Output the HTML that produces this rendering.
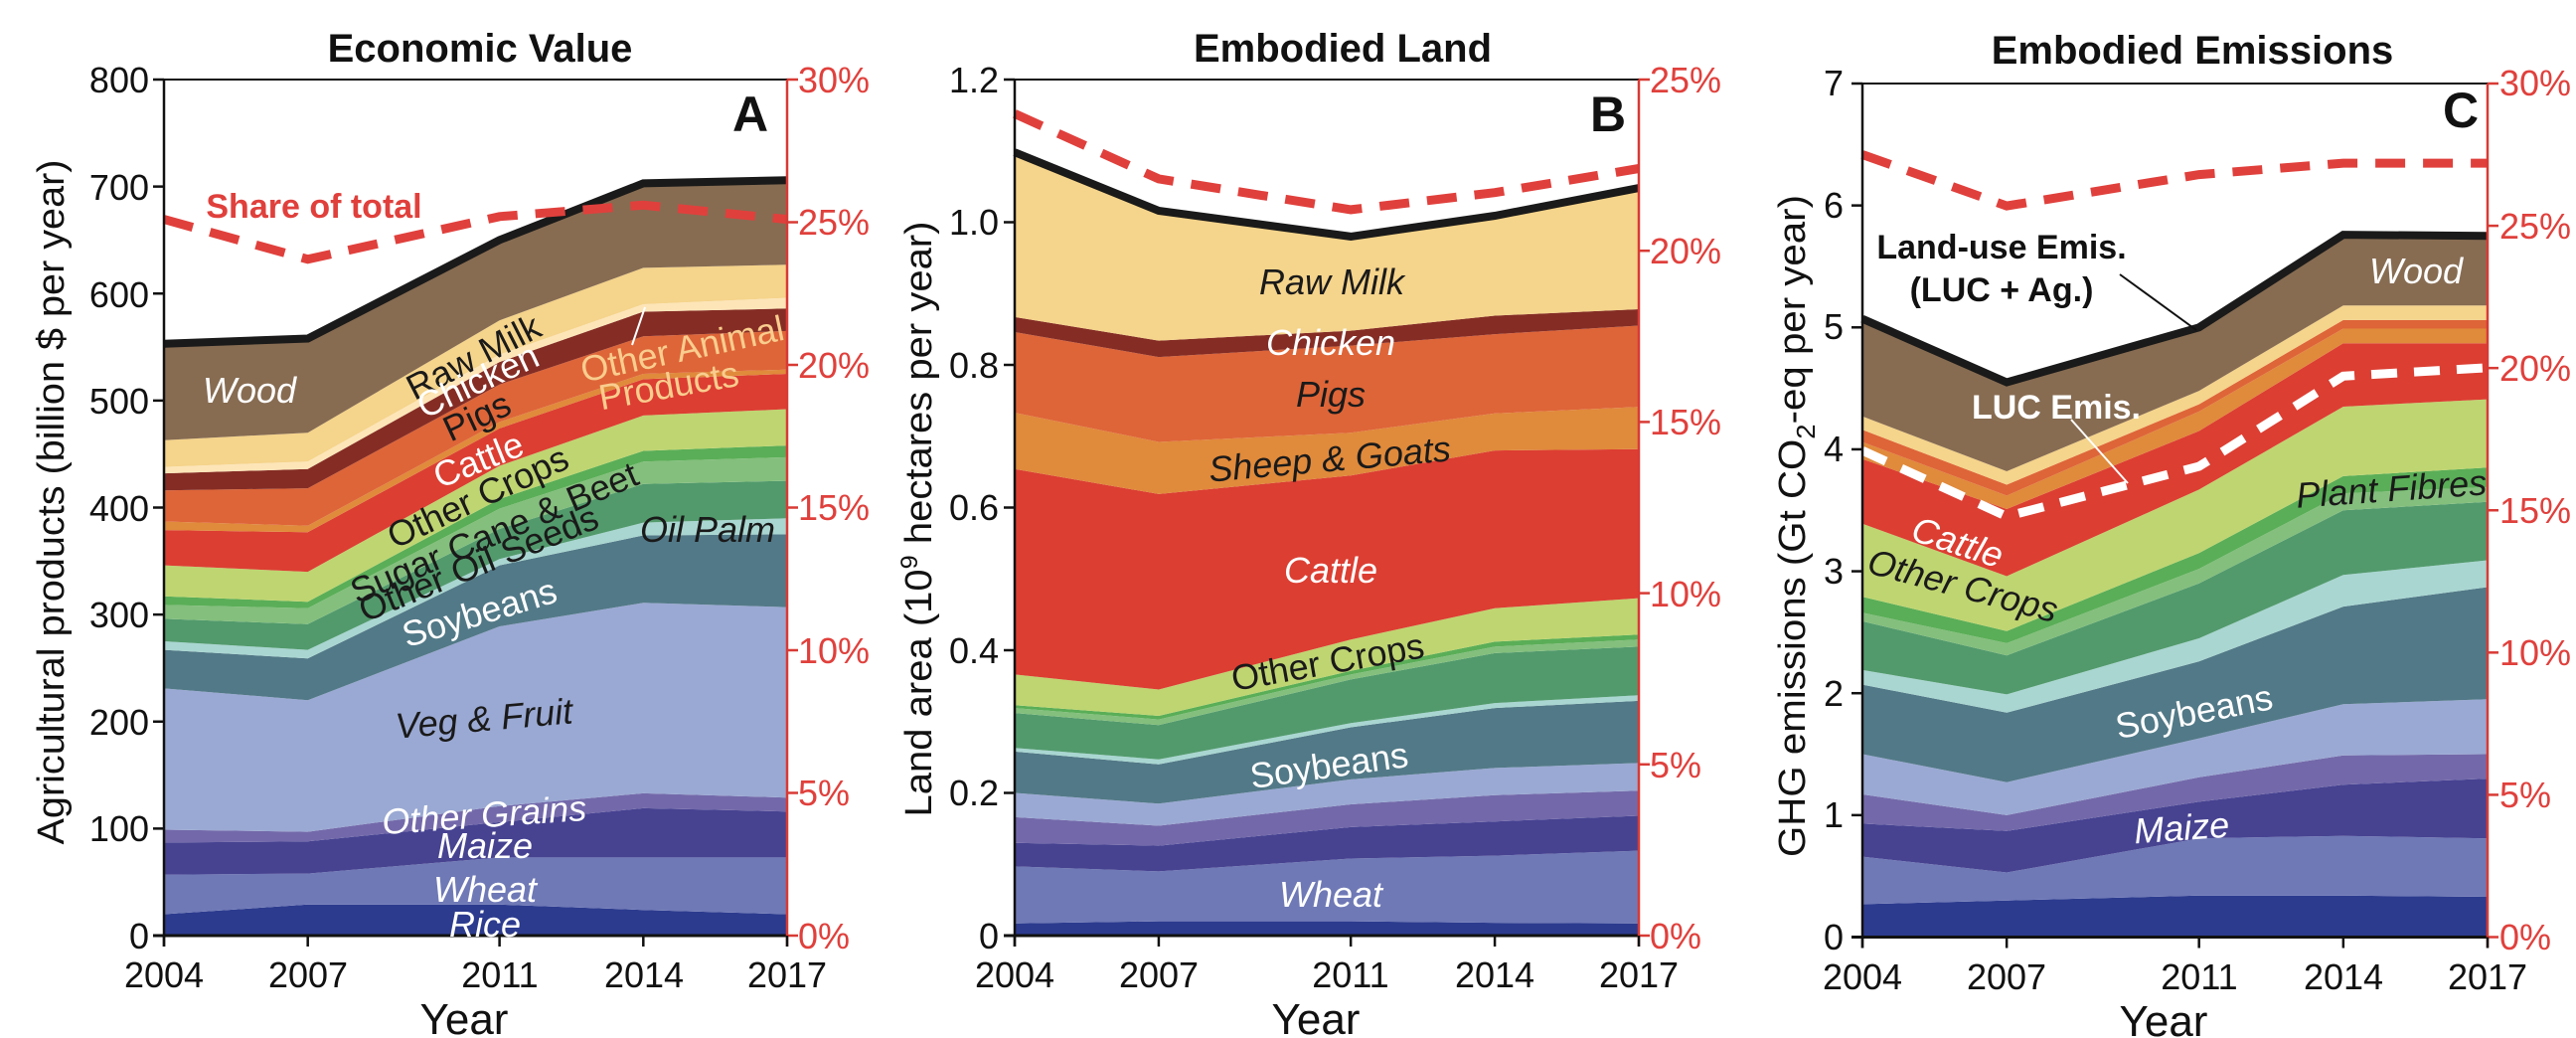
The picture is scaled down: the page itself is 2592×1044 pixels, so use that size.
<!DOCTYPE html>
<html><head><meta charset="utf-8"><style>
html,body{margin:0;padding:0;background:#fff}
svg{display:block}
text{font-family:"Liberation Sans",Arial,sans-serif}
.t{font-size:36px;fill:#111}
.r{font-size:36px;fill:#e0403c}
.ti{font-size:40px;font-weight:bold;fill:#111}
.lb{font-size:33px}
.lb2{font-size:36px}
.it{font-style:italic}
.w{fill:#fff}.d{fill:#1a1a1a}
</style></head><body>
<svg id="s" width="2592" height="1044" viewBox="0 0 2592 1044" xmlns="http://www.w3.org/2000/svg">
<g id="layers"></g>
<g id="lines"></g>
<text class="ti" x="483" y="62" text-anchor="middle">Economic Value</text>
<text class="ti" x="1351" y="62" text-anchor="middle">Embodied Land</text>
<text class="ti" x="2206" y="64" text-anchor="middle">Embodied Emissions</text>
<text x="755" y="132" font-size="50" font-weight="bold" text-anchor="middle" fill="#111">A</text>
<text x="1618" y="132" font-size="50" font-weight="bold" text-anchor="middle" fill="#111">B</text>
<text x="2476" y="128" font-size="50" font-weight="bold" text-anchor="middle" fill="#111">C</text>
<text x="0" y="0" font-size="38" fill="#111" text-anchor="middle" transform="translate(64,505) rotate(-90)" textLength="689" lengthAdjust="spacingAndGlyphs">Agricultural products (billion $ per year)</text>
<text x="0" y="0" font-size="38" fill="#111" text-anchor="middle" transform="translate(937,522) rotate(-90)" textLength="599" lengthAdjust="spacingAndGlyphs">Land area (10<tspan font-size="24" dy="-14">9</tspan><tspan dy="14"> hectares per year)</tspan></text>
<text x="0" y="0" font-size="38" fill="#111" text-anchor="middle" transform="translate(1816,529) rotate(-90)" textLength="666" lengthAdjust="spacingAndGlyphs">GHG emissions (Gt CO<tspan font-size="26" dy="10">2</tspan><tspan dy="-10">-eq per year)</tspan></text>
<text x="467" y="1040" font-size="44" fill="#111" text-anchor="middle">Year</text>
<text x="1324" y="1040" font-size="44" fill="#111" text-anchor="middle">Year</text>
<text x="2177" y="1042" font-size="44" fill="#111" text-anchor="middle">Year</text>
<g class="t" text-anchor="end">
<text x="150" y="954">0</text><text x="150" y="846">100</text><text x="150" y="739">200</text><text x="150" y="631">300</text><text x="150" y="524">400</text><text x="150" y="416">500</text><text x="150" y="309">600</text><text x="150" y="201">700</text><text x="150" y="93">800</text>
</g>
<g class="r">
<text x="803" y="954">0%</text><text x="803" y="810">5%</text><text x="803" y="667">10%</text><text x="803" y="523">15%</text><text x="803" y="380">20%</text><text x="803" y="236">25%</text><text x="803" y="93">30%</text>
</g>
<g class="t" text-anchor="middle">
<text x="165" y="993">2004</text><text x="310" y="993">2007</text><text x="503" y="993">2011</text><text x="648" y="993">2014</text><text x="792" y="993">2017</text>
</g>
<g class="t" text-anchor="end">
<text x="1005" y="954">0</text><text x="1005" y="810">0.2</text><text x="1005" y="667">0.4</text><text x="1005" y="523">0.6</text><text x="1005" y="380">0.8</text><text x="1005" y="236">1.0</text><text x="1005" y="93">1.2</text>
</g>
<g class="r">
<text x="1660" y="954">0%</text><text x="1660" y="782">5%</text><text x="1660" y="610">10%</text><text x="1660" y="437">15%</text><text x="1660" y="265">20%</text><text x="1660" y="93">25%</text>
</g>
<g class="t" text-anchor="middle">
<text x="1021" y="993">2004</text><text x="1166" y="993">2007</text><text x="1359" y="993">2011</text><text x="1504" y="993">2014</text><text x="1649" y="993">2017</text>
</g>
<g class="t" text-anchor="end">
<text x="1855" y="955">0</text><text x="1855" y="832">1</text><text x="1855" y="710">2</text><text x="1855" y="587">3</text><text x="1855" y="464">4</text><text x="1855" y="341">5</text><text x="1855" y="219">6</text><text x="1855" y="96">7</text>
</g>
<g class="r">
<text x="2515" y="955">0%</text><text x="2515" y="812">5%</text><text x="2515" y="669">10%</text><text x="2515" y="526">15%</text><text x="2515" y="383">20%</text><text x="2515" y="240">25%</text><text x="2515" y="96">30%</text>
</g>
<g class="t" text-anchor="middle">
<text x="1874" y="995">2004</text><text x="2019" y="995">2007</text><text x="2213" y="995">2011</text><text x="2358" y="995">2014</text><text x="2503" y="995">2017</text>
</g>
<g class="lb2">
<text class="w it" x="251" y="405" text-anchor="middle">Wood</text>
<text class="d" transform="translate(482,370) rotate(-27)" text-anchor="middle">Raw Milk</text>
<text class="w" transform="translate(486,394) rotate(-25)" text-anchor="middle">Chicken</text>
<text class="d" transform="translate(485,430) rotate(-25)" text-anchor="middle">Pigs</text>
<text class="w" transform="translate(486,474) rotate(-22)" text-anchor="middle">Cattle</text>
<text class="d" transform="translate(486,511) rotate(-25)" text-anchor="middle">Other Crops</text>
<text class="d" transform="translate(502,547) rotate(-23)" text-anchor="middle">Sugar Cane &amp; Beet</text>
<text class="d" transform="translate(486,578) rotate(-22)" text-anchor="middle">Other Oil Seeds</text>
<text class="w" transform="translate(486,628) rotate(-17)" text-anchor="middle">Soybeans</text>
<text class="d it" x="712" y="545" text-anchor="middle">Oil Palm</text>
<text class="d it" transform="translate(488,735) rotate(-5)" text-anchor="middle">Veg &amp; Fruit</text>
<text class="w it" transform="translate(488,832) rotate(-4)" text-anchor="middle">Other Grains</text>
<text class="w it" x="488" y="863" text-anchor="middle">Maize</text>
<text class="w it" x="488" y="907" text-anchor="middle">Wheat</text>
<text class="w it" x="488" y="942" text-anchor="middle">Rice</text>
<text fill="#f9cd8e" transform="translate(689,363) rotate(-12)" text-anchor="middle">Other Animal</text>
<text fill="#f9cd8e" transform="translate(675,400) rotate(-10)" text-anchor="middle">Products</text>
</g>
<line x1="649" y1="309" x2="636" y2="347" stroke="#fff" stroke-width="2"/>
<text x="316" y="219" font-size="34" font-weight="bold" fill="#e0403c" text-anchor="middle">Share of total</text>
<g class="lb2 it">
<text class="d" x="1340" y="296" text-anchor="middle">Raw Milk</text>
<text class="w" x="1339" y="357" text-anchor="middle">Chicken</text>
<text class="d" x="1339" y="409" text-anchor="middle">Pigs</text>
<text class="d" transform="translate(1339,474) rotate(-5)" text-anchor="middle">Sheep &amp; Goats</text>
<text class="w" x="1339" y="586" text-anchor="middle">Cattle</text>
<text class="w" x="1339" y="912" text-anchor="middle">Wheat</text>
</g>
<g class="lb2">
<text class="d" transform="translate(1338,678) rotate(-10)" text-anchor="middle">Other Crops</text>
<text class="w" transform="translate(1339,782) rotate(-8)" text-anchor="middle">Soybeans</text>
</g>
<text x="2014" y="260" font-size="34" font-weight="bold" fill="#111" text-anchor="middle">Land-use Emis.</text>
<text x="2014" y="303" font-size="34" font-weight="bold" fill="#111" text-anchor="middle">(LUC + Ag.)</text>
<line x1="2133" y1="276" x2="2210" y2="332" stroke="#111" stroke-width="2"/>
<text x="2069" y="421" font-size="34" font-weight="bold" fill="#fff" text-anchor="middle">LUC Emis.</text>
<line x1="2084" y1="422" x2="2141" y2="486" stroke="#fff" stroke-width="2"/>
<g class="lb2">
<text class="w it" x="2431" y="285" text-anchor="middle">Wood</text>
<text class="w it" transform="translate(1966,557) rotate(18)" text-anchor="middle">Cattle</text>
<text class="d it" transform="translate(1972,601) rotate(15)" text-anchor="middle">Other Crops</text>
<text class="d it" transform="translate(2407,504) rotate(-4)" text-anchor="middle">Plant Fibres</text>
<text class="w" transform="translate(2210,728) rotate(-11)" text-anchor="middle">Soybeans</text>
<text class="w it" transform="translate(2196,845) rotate(-4)" text-anchor="middle">Maize</text>
</g>
</svg>
<script>
(function(){
var NS="http://www.w3.org/2000/svg";
var L=document.getElementById("layers"),G=document.getElementById("lines");
var yrs=[2004,2007,2011,2014,2017];
function el(p,tag,a){var e=document.createElementNS(NS,tag);for(var k in a)e.setAttribute(k,a[k]);p.appendChild(e);return e;}
function panel(c){
 var X=function(i){return c.x0+(yrs[i]-2004)/13*(c.x1-c.x0);};
 var Y=function(v){return c.yb-v/c.vmax*(c.yb-c.yt);};
 var Yr=function(v){return c.yb-v/c.smax*(c.yb-c.yt);};
 var prev=[0,0,0,0,0];
 c.layers.forEach(function(l){
  var pts=[];for(var i=0;i<5;i++)pts.push(X(i).toFixed(1)+","+Y(l[1][i]).toFixed(1));
  for(var i=4;i>=0;i--)pts.push(X(i).toFixed(1)+","+Y(prev[i]).toFixed(1));
  el(L,"polygon",{points:pts.join(" "),fill:l[0]});prev=l[1];
 });
 var top=c.layers[c.layers.length-1][1];
 var p=[];for(var i=0;i<5;i++)p.push(X(i).toFixed(1)+","+Y(top[i]).toFixed(1));
 el(G,"polyline",{points:p.join(" "),fill:"none",stroke:"#1a1a1a","stroke-width":8,"stroke-linejoin":"miter"});
 if(c.luc){p=[];for(var i=0;i<5;i++)p.push(X(i).toFixed(1)+","+Y(c.luc[i]).toFixed(1));
  el(G,"polyline",{points:p.join(" "),fill:"none",stroke:"#fff","stroke-width":9,"stroke-dasharray":"26 17"});}
 p=[];for(var i=0;i<5;i++)p.push(X(i).toFixed(1)+","+Yr(c.share[i]).toFixed(1));
 el(G,"polyline",{points:p.join(" "),fill:"none",stroke:"#e0403c","stroke-width":9,"stroke-dasharray":"30 18"});
 el(G,"line",{x1:c.x0-11,y1:c.yt,x2:c.x1,y2:c.yt,stroke:"#111","stroke-width":2});
 el(G,"line",{x1:c.x0,y1:c.yt,x2:c.x0,y2:c.yb+11,stroke:"#111","stroke-width":2.5});
 el(G,"line",{x1:c.x0-11,y1:c.yb,x2:c.x1,y2:c.yb,stroke:"#111","stroke-width":3});
 el(G,"line",{x1:c.x1,y1:c.yt,x2:c.x1,y2:c.yb+11,stroke:"#d83a35","stroke-width":2.5});
 for(var v=0;v<=c.vmax+1e-9;v+=c.vstep){var y=Y(v);el(G,"line",{x1:c.x0-11,y1:y,x2:c.x0,y2:y,stroke:"#111","stroke-width":2.5});}
 for(var s=0;s<=c.smax+1e-9;s+=5){var y=Yr(s);el(G,"line",{x1:c.x1,y1:y,x2:c.x1+11,y2:y,stroke:"#d83a35","stroke-width":2.5});}
 for(var i=0;i<5;i++){el(G,"line",{x1:X(i),y1:c.yb,x2:X(i),y2:c.yb+11,stroke:"#111","stroke-width":2.5});}
}
var C={rice:"#2c3b8e",wheat:"#6f79b6",maize:"#474391",og:"#7369aa",veg:"#9aa9d3",soy:"#527987",palm:"#a9d6d1",seeds:"#529a6c",sugar:"#84bf7d",fib:"#5aae57",oc:"#bfd571",cattle:"#dc3e32",oa:"#e08a3b",pigs:"#de6538",chick:"#852d25",stripe:"#fde5b8",milk:"#f5d48b",wood:"#876c52"};
panel({x0:165,x1:792,yt:80,yb:941,vmax:800,vstep:100,smax:30,
 share:[25.1,23.7,25.2,25.6,25.1],
 layers:[[C.rice,[20,29,29,24,20]],[C.wheat,[57,58,73,73,73]],[C.maize,[87,88,106,119,116]],[C.og,[99,97,121,133,129]],
 [C.veg,[231,220,289,311,307]],[C.soy,[267,259,346,374,375]],[C.palm,[275,267,352,386,390]],[C.seeds,[296,291,380,422,425]],
 [C.sugar,[309,306,399,443,447]],[C.fib,[317,312,408,453,458]],[C.oc,[346,340,439,486,492]],[C.cattle,[379,377,474,520,525]],
 [C.oa,[387,383,480,525,529]],[C.pigs,[416,418,515,560,565]],[C.chick,[432,436,536,583,586]],[C.stripe,[438,443,543,590,596]],
 [C.milk,[463,470,575,624,627]],[C.wood,[553,558,650,703,706]]]});
panel({x0:1021,x1:1649,yt:80,yb:941,vmax:1.2,vstep:0.2,smax:25,
 share:[24.0,22.1,21.2,21.7,22.4],
 layers:[[C.rice,[.017,.02,.02,.018,.017]],[C.wheat,[.097,.090,.108,.112,.119]],[C.maize,[.130,.126,.152,.160,.168]],[C.og,[.166,.154,.184,.197,.203]],
 [C.veg,[.200,.185,.219,.235,.242]],[C.soy,[.258,.240,.292,.319,.329]],[C.palm,[.263,.247,.298,.326,.337]],[C.seeds,[.312,.295,.359,.396,.405]],
 [C.sugar,[.319,.303,.366,.405,.415]],[C.fib,[.323,.308,.371,.412,.422]],[C.oc,[.366,.345,.415,.459,.473]],[C.cattle,[.654,.619,.645,.680,.682]],
 [C.oa,[.733,.692,.705,.732,.741]],[C.pigs,[.846,.811,.827,.843,.855]],[C.chick,[.867,.834,.848,.869,.878]],[C.milk,[1.098,1.016,.980,1.009,1.048]]]});
panel({x0:1874,x1:2503,yt:84,yb:942.5,vmax:7,vstep:1,smax:30,
 share:[27.5,25.7,26.8,27.2,27.2],luc:[3.99,3.45,3.86,4.60,4.67],
 layers:[[C.rice,[.27,.30,.34,.34,.33]],[C.wheat,[.66,.53,.81,.83,.81]],[C.maize,[.93,.87,1.11,1.25,1.30]],[C.og,[1.17,1.00,1.31,1.49,1.50]],
 [C.veg,[1.50,1.27,1.63,1.91,1.95]],[C.soy,[2.07,1.84,2.26,2.71,2.87]],[C.palm,[2.19,1.99,2.45,2.97,3.09]],[C.seeds,[2.59,2.31,2.90,3.50,3.57]],
 [C.sugar,[2.66,2.41,3.02,3.64,3.69]],[C.fib,[2.79,2.51,3.15,3.78,3.85]],[C.oc,[3.39,2.96,3.67,4.35,4.41]],[C.cattle,[3.92,3.51,4.15,4.87,4.87]],
 [C.oa,[4.06,3.62,4.31,4.99,4.99]],[C.pigs,[4.16,3.71,4.37,5.06,5.06]],[C.milk,[4.27,3.82,4.48,5.18,5.18]],[C.wood,[5.07,4.55,5.00,5.76,5.75]]]});
})();
</script>
</body></html>
